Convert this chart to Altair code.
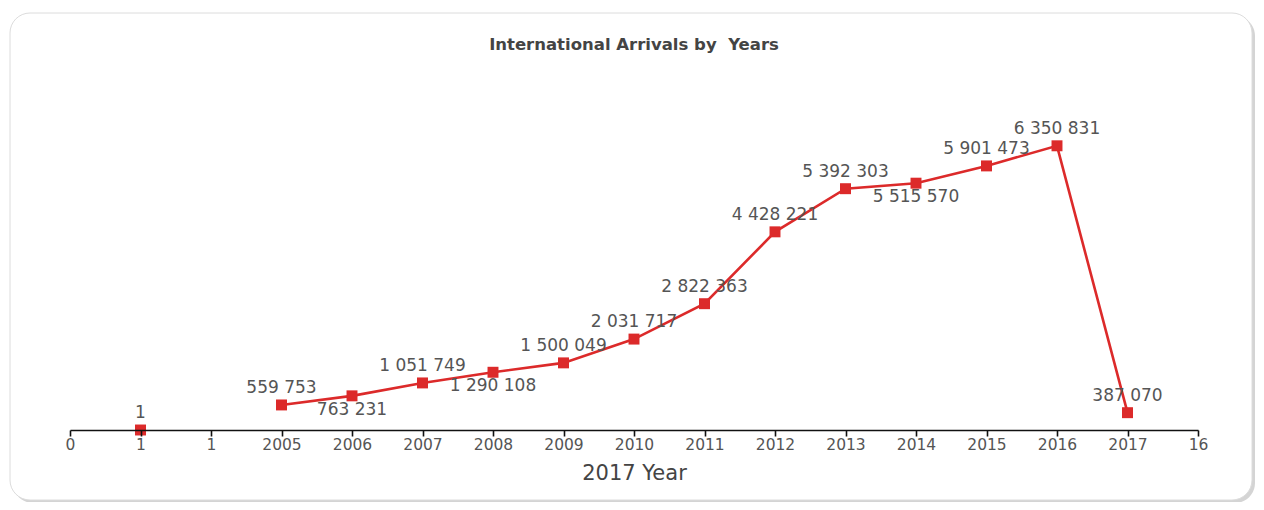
import altair as alt
import pandas as pd

# ---- data ----
tick_positions = list(range(17))
tick_labels = ["0", "1", "1", "2005", "2006", "2007", "2008", "2009", "2010",
               "2011", "2012", "2013", "2014", "2015", "2016", "2017", "16"]
point_positions = [1, 3, 4, 5, 6, 7, 8, 9, 10, 11, 12, 13, 14, 15]
arrivals = [1, 559753, 763231, 1051749, 1290108, 1500049, 2031717, 2822363,
            4428221, 5392303, 5515570, 5901473, 6350831, 387070]
label_side = ["above", "above", "below", "above", "below", "above", "above",
              "above", "above", "above", "below", "above", "above", "above"]
segment = ["start", "series", "series", "series", "series", "series", "series",
           "series", "series", "series", "series", "series", "series", "series"]

df = pd.DataFrame({
    "pos": point_positions,
    "value": arrivals,
    "side": label_side,
    "segment": segment,
})

RED = "#dc2a2a"
FONT = "DejaVu Sans"
W, H = 1128, 358

label_expr = "[" + ",".join(f"'{t}'" for t in tick_labels) + "][datum.value]"

x = alt.X("pos:Q",
          scale=alt.Scale(domain=[0, 16], nice=False, zero=False),
          axis=alt.Axis(values=tick_positions, labelExpr=label_expr,
                        title="2017 Year", grid=False, zindex=2,
                        domainColor="#111111", domainWidth=1.6,
                        tickColor="#111111", tickWidth=1.6, tickSize=6,
                        labelFont=FONT, labelFontSize=15.5, labelColor="#555555",
                        labelPadding=1, labelFlush=False,
                        titleFont=FONT, titleFontSize=21, titleFontWeight="normal",
                        titleColor="#444444", titlePadding=10))
y = alt.Y("value:Q", scale=alt.Scale(domain=[0, 8000000], nice=False), axis=None)

card_data = alt.Data(values=[{"card": 1}])
shadow = alt.Chart(card_data).mark_rect(
    fill="#cfcfcf", cornerRadius=20, opacity=0.9
).encode(x=alt.value(-57), x2=alt.value(1185), y=alt.value(-56), y2=alt.value(431))
card = alt.Chart(card_data).mark_rect(
    fill="white", stroke="#dcdcdc", strokeWidth=1, cornerRadius=20
).encode(x=alt.value(-60), x2=alt.value(1182), y=alt.value(-59), y2=alt.value(428))

base = alt.Chart(df).transform_calculate(
    label="replace(format(datum.value, ','), regexp(',', 'g'), ' ')"
)

line = base.mark_line(color=RED, strokeWidth=2.6).encode(
    x=x, y=y, detail="segment:N")
points = base.mark_square(color=RED, size=120, opacity=1).encode(x=x, y=y)

text_style = dict(font=FONT, fontSize=17, color="#555555", baseline="middle")
above = base.transform_filter("datum.side == 'above'").mark_text(
    dy=-17, **text_style).encode(x=x, y=y, text="label:N")
below = base.transform_filter("datum.side == 'below'").mark_text(
    dy=14, **text_style).encode(x=x, y=y, text="label:N")

chart = alt.layer(shadow, card, line, points, above, below).properties(
    width=W, height=H,
    title=alt.TitleParams("International Arrivals by\u00a0 Years", font=FONT,
                          fontSize=16.5, fontWeight="bold", color="#444444",
                          anchor="middle", offset=-41, zindex=2),
    autosize=alt.AutoSizeParams(type="none"),
    padding={"left": 62, "top": 64, "right": 58, "bottom": 72},
).configure_view(stroke=None).configure(background="white")

chart.save("out.html", embed_options={"renderer": "svg", "actions": False})
